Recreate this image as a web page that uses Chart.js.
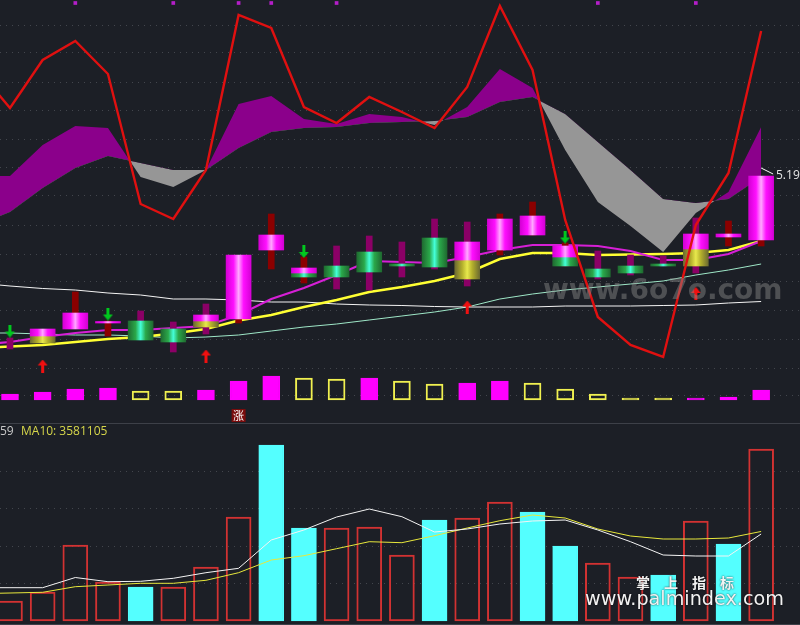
<!DOCTYPE html>
<html>
<head>
<meta charset="utf-8">
<title>K line</title>
<script src="https://cdn.jsdelivr.net/npm/chart.js@4/dist/chart.umd.min.js"></script>
<style>
    body { margin: 0; background: #1c1f26; }
    canvas { display: block; }
</style>
</head>
<body>
<canvas id="kline" width="800" height="625"></canvas>
<script>
// candle positions, lines start one session earlier so they run off the left edge
const days = [0, 1, 2, 3, 4, 5, 6, 7, 8, 9, 10, 11, 12, 13, 14, 15, 16, 17, 18, 19, 20, 21, 22, 23];
const lineDays = [-1].concat(days);

// candles
const candleUp = [0, 1, 1, 0, 0, 0, 1, 1, 1, 0, 0, 0, 0, 0, 1, 1, 1, 0, 0, 0, 0, 1, 1, 1];
const wicks = [[3.45, 3.56], null, [3.81, 4.02], [3.58, 3.73], [3.73, 3.83], [3.42, 3.72], [3.60, 3.90], [3.71, 3.75],
    [4.25, 4.80], [4.11, 4.37], [4.05, 4.48], [4.04, 4.58], [4.17, 4.52], [4.25, 4.75], [4.08, 4.72], [4.39, 4.80],
    [4.59, 4.92], [4.28, 4.51], [4.15, 4.43], [4.19, 4.39], [4.28, 4.38], [4.21, 4.76], [4.48, 4.73], [4.48, 4.54]];
const pinkBodies = [null, [3.58, 3.65], [3.65, 3.81], [3.71, 3.725], null, null, [3.73, 3.79], [3.75, 4.39],
    [4.44, 4.59], [4.21, 4.26], null, null, null, null, [4.34, 4.52], [4.44, 4.75],
    [4.59, 4.78], [4.37, 4.48], null, null, null, [4.45, 4.60], [4.57, 4.60], [4.54, 5.18]];
const goldBodies = [null, [3.51, 3.58], null, null, null, null, [3.67, 3.73], null,
    null, null, null, null, null, null, [4.15, 4.34], null,
    null, null, null, null, null, [4.28, 4.45], null, null];
const greenBodies = [null, null, null, null, [3.54, 3.73], [3.52, 3.65], null, null,
    null, [4.17, 4.21], [4.17, 4.28], [4.22, 4.42], [4.28, 4.30], [4.27, 4.56], null, null,
    null, [4.28, 4.37], [4.17, 4.25], [4.21, 4.28], [4.28, 4.30], null, null, null];

// price lines
const ma5 = [3.49, 3.52, 3.57, 3.61, 3.64, 3.64, 3.66, 3.68, 3.79, 3.95, 4.06, 4.19, 4.33, 4.32, 4.31, 4.37, 4.44, 4.49, 4.49, 4.48, 4.43, 4.34, 4.34, 4.40, 4.53];
const ma10 = [3.46, 3.475, 3.49, 3.52, 3.55, 3.57, 3.605, 3.65, 3.735, 3.79, 3.87, 3.94, 4.02, 4.07, 4.13, 4.21, 4.35, 4.41, 4.41, 4.39, 4.395, 4.40, 4.41, 4.44, 4.53];
const ma20 = [3.61, 3.61, 3.60, 3.59, 3.59, 3.58, 3.56, 3.57, 3.59, 3.63, 3.67, 3.70, 3.74, 3.78, 3.82, 3.87, 3.95, 4.00, 4.04, 4.07, 4.10, 4.13, 4.19, 4.24, 4.30];
const ma60 = [4.11, 4.08, 4.055, 4.04, 4.01, 3.99, 3.95, 3.95, 3.94, 3.92, 3.92, 3.90, 3.89, 3.885, 3.875, 3.87, 3.87, 3.87, 3.88, 3.88, 3.88, 3.885, 3.89, 3.91, 3.925];

// indicator drawn over the price pane
const redLine = [6.25, 5.86, 6.34, 6.53, 6.20, 4.90, 4.75, 5.24, 6.79, 6.66, 5.87, 5.71, 5.97, 5.82, 5.66, 6.07, 6.88, 6.24, 4.74, 3.77, 3.49, 3.37, 4.69, 5.21, 6.63];
const cloudFast = [5.18, 5.18, 5.49, 5.68, 5.66, 5.17, 5.07, 5.24, 5.90, 5.98, 5.75, 5.70, 5.80, 5.77, 5.69, 5.87, 6.25, 6.06, 5.44, 4.92, 4.68, 4.42, 4.81, 5.02, 5.67];
const cloudSlow = [4.69, 4.82, 5.06, 5.26, 5.38, 5.31, 5.24, 5.24, 5.46, 5.62, 5.66, 5.67, 5.71, 5.72, 5.73, 5.77, 5.92, 5.97, 5.80, 5.52, 5.24, 4.95, 4.91, 4.95, 5.17];

// arrows and markers
const buyDays = [1, 6, 14, 21];
const buyPrices = [3.28, 3.38, 3.87, 4.005];
const sellDays = [0, 3, 9, 17];
const sellPrices = [3.63, 3.80, 4.425, 4.57];
const markDays = [2, 5, 7, 8, 10, 18, 21];
const markPrice = 6.91;
const riseDay = 7;

// small bars under the candles
const flowValues = [6, 8, 11, 12, 9, 9, 10, 19, 24, 22, 21, 22, 19, 16, 17, 19, 17, 11, 6, 2, 2, 2, 3, 10];
const flowUp = [1, 1, 1, 1, 0, 0, 1, 1, 1, 0, 0, 1, 0, 0, 1, 1, 0, 0, 0, 0, 0, 1, 1, 1];

// volume pane
const volumes = [800000, 1160000, 3040000, 1560000, 1360000, 1360000, 2160000, 4160000, 7040000, 3720000, 3720000, 3760000,
    2640000, 4040000, 4120000, 4760000, 4360000, 3000000, 2320000, 1760000, 1840000, 4000000, 3080000, 6880000];
const volumeUp = [1, 1, 1, 1, 0, 1, 1, 1, 0, 0, 1, 1, 1, 0, 1, 1, 0, 0, 1, 1, 0, 1, 0, 1];
const volMa5 = [1332000, 1332000, 1332000, 1740000, 1572000, 1588000, 1708000, 1932000, 2108000, 3240000, 3640000, 4160000, 4480000,
    4172000, 3560000, 3680000, 3880000, 4000000, 4040000, 3640000, 3172000, 2640000, 2600000, 2600000, 3480000];
const volMa10 = [1092000, 1120000, 1148000, 1372000, 1440000, 1508000, 1508000, 1628000, 1932000, 2440000, 2612000, 2892000, 3172000,
    3132000, 3412000, 3720000, 4012000, 4240000, 4120000, 3680000, 3400000, 3280000, 3280000, 3320000, 3581105];

// tick positions for the dotted grid and pane dividers
const priceTicks = [6.69, 6.41, 6.12, 5.83, 5.55, 5.26, 4.98, 4.69, 4.40, 4.12, 3.83, 3.55, 3.26, 2.98];
const volumeTicks = [1500000, 3000000, 4500000, 6000000];
const dividerTicks = [-23, -224];

const priceLabel = '5.19';
const volumeLabel = 'MA10: 3581105';

// turns a value list into points for the linear x axis
function points(xs, ys) {
    return ys.map((y, i) => ({ x: xs[i], y: y })).filter(p => p.y !== null);
}

// candle bodies are shaded like a cylinder, bright in the middle
function shaded(edge, mid, centre) {
    return function(c) {
        if (c.type !== 'data') return mid;
        const px = c.chart.scales.x.getPixelForValue(c.raw.x);
        // the legend asks for the style before the scales are laid out
        if (!isFinite(px)) return mid;
        const g = c.chart.ctx.createLinearGradient(px - 12.5, 0, px + 12.5, 0);
        g.addColorStop(0, edge);
        g.addColorStop(0.3, mid);
        g.addColorStop(0.5, centre);
        g.addColorStop(0.7, mid);
        g.addColorStop(1, edge);
        return g;
    };
}

// arrow image used as a point style, pointing up
function arrowImage(color) {
    const cv = document.createElement('canvas');
    cv.width = 11;
    cv.height = 13;
    const g = cv.getContext('2d');
    g.fillStyle = color;
    g.beginPath();
    g.moveTo(5.5, 0);
    g.lineTo(10.5, 6);
    g.lineTo(7, 6);
    g.lineTo(7, 13);
    g.lineTo(4, 13);
    g.lineTo(4, 6);
    g.lineTo(0.5, 6);
    g.closePath();
    g.fill();
    return cv;
}

function lineSet(data, color, width, order, yAxisID) {
    return {
        type: 'line',
        data: points(lineDays, data),
        borderColor: color,
        borderWidth: width,
        pointRadius: 0,
        tension: 0,
        fill: false,
        order: order,
        yAxisID: yAxisID || 'price'
    };
}

function bodySet(data, edge, mid, centre) {
    return {
        type: 'bar',
        data: points(days, data),
        backgroundColor: shaded(edge, mid, centre),
        borderWidth: 0,
        barThickness: 25,
        order: 5,
        yAxisID: 'price'
    };
}

function axisTicks(list) {
    return function(scale) {
        scale.ticks = list.map(v => ({ value: v }));
    };
}

function paneAxis(min, max, list, color, dash) {
    return {
        min: min,
        max: max,
        afterBuildTicks: axisTicks(list),
        ticks: { display: false, autoSkip: false },
        grid: { color: color, drawTicks: false, lineWidth: 1 },
        border: { display: false, dash: dash }
    };
}

// all the text on the picture that is not part of an axis
const textPlugin = {
    id: 'textPlugin',
    afterDraw(chart) {
        const ctx = chart.ctx;
        const x = chart.scales.x;
        const riseX = x.getPixelForValue(riseDay);
        ctx.save();
        ctx.textBaseline = 'middle';

        ctx.fillStyle = '#7a0c0c';
        ctx.fillRect(riseX - 7, 409, 14, 13);
        ctx.fillStyle = '#ffffff';
        ctx.font = '11px "Noto Sans CJK SC"';
        ctx.textAlign = 'center';
        ctx.fillText('涨', riseX, 415.5);

        // last price with its small leader
        ctx.strokeStyle = '#ffffff';
        ctx.lineWidth = 1;
        ctx.beginPath();
        ctx.moveTo(x.getPixelForValue(23), 168);
        ctx.lineTo(x.getPixelForValue(23) + 12, 174);
        ctx.stroke();
        ctx.textAlign = 'left';
        ctx.font = '12px "Open Sans"';
        ctx.fillStyle = '#e6e6e6';
        ctx.fillText(priceLabel, 776, 176);

        ctx.fillStyle = '#c8c8c8';
        ctx.fillText('59', 0, 432);
        ctx.fillStyle = '#d6d64a';
        ctx.fillText(volumeLabel, 21, 432);

        // watermarks
        ctx.font = 'bold 28px "DejaVu Sans"';
        ctx.fillStyle = 'rgba(140, 140, 140, 0.45)';
        ctx.fillText('www.6o7o.com', 543, 292);

        ctx.shadowColor = 'rgba(0, 0, 0, 0.8)';
        ctx.shadowBlur = 2;
        ctx.fillStyle = '#f2f2f2';
        ctx.font = 'bold 14px "Noto Sans CJK SC"';
        ctx.letterSpacing = '14px';
        ctx.fillText('掌上指标', 636, 583);
        ctx.letterSpacing = '0px';
        ctx.font = '19.2px "DejaVu Sans"';
        ctx.fillText('www.palmindex.com', 585, 600);
        ctx.restore();
    }
};

const ctx = document.getElementById('kline').getContext('2d');

new Chart(ctx, {
    data: {
        datasets: [
            // cloud, the target of the fill has to be the next dataset
            Object.assign(lineSet(cloudFast, 'rgba(0,0,0,0)', 0, 9), {
                fill: { target: '+1', above: '#8b008b', below: '#969696' }
            }),
            lineSet(cloudSlow, 'rgba(0,0,0,0)', 0, 9),
            lineSet(ma60, '#f4f4f4', 1, 8),
            lineSet(ma20, '#9fe8c8', 1, 8),
            lineSet(ma5, '#d61fd6', 2.2, 7),
            lineSet(ma10, '#ffff33', 2.5, 7),
            {
                type: 'bar',
                data: points(days, wicks),
                backgroundColor: days.map(i => candleUp[i] ? '#8b0000' : '#8b0066'),
                borderWidth: 0,
                barThickness: 6,
                order: 6,
                yAxisID: 'price'
            },
            bodySet(pinkBodies, '#d400d4', '#ff10ff', '#ffa8ff'),
            bodySet(goldBodies, '#6c6a30', '#b4b02c', '#e8e84c'),
            bodySet(greenBodies, '#1f6a30', '#2aa84a', '#44ffd8'),
            lineSet(redLine, '#e01010', 2.4, 1),
            {
                type: 'scatter',
                data: points(buyDays, buyPrices),
                pointStyle: arrowImage('#f01010'),
                order: 2,
                yAxisID: 'price'
            },
            {
                type: 'scatter',
                data: points(sellDays, sellPrices),
                pointStyle: arrowImage('#00c81e'),
                pointRotation: 180,
                order: 2,
                yAxisID: 'price'
            },
            {
                type: 'scatter',
                data: markDays.map(d => ({ x: d, y: markPrice })),
                pointStyle: 'rect',
                pointRadius: 2.6,
                backgroundColor: '#b41ec8',
                borderWidth: 0,
                order: 2,
                yAxisID: 'price'
            },
            {
                type: 'bar',
                data: points(days, flowValues),
                backgroundColor: days.map(i => flowUp[i] ? '#ff00ff' : 'rgba(0,0,0,0)'),
                borderColor: days.map(i => flowUp[i] ? '#ff00ff' : '#f0f050'),
                borderWidth: 1.3,
                borderSkipped: false,
                barThickness: 17,
                order: 5,
                yAxisID: 'flow'
            },
            {
                type: 'bar',
                data: points(days, volumes),
                backgroundColor: days.map(i => volumeUp[i] ? 'rgba(0,0,0,0)' : '#54ffff'),
                borderColor: days.map(i => volumeUp[i] ? '#d23232' : '#54ffff'),
                borderWidth: 1.3,
                borderSkipped: false,
                barThickness: 25,
                order: 5,
                yAxisID: 'volume'
            },
            lineSet(volMa5, '#f4f4f4', 1, 3, 'volume'),
            lineSet(volMa10, '#e8e83c', 1, 3, 'volume')
        ]
    },
    options: {
        responsive: false,
        animation: false,
        events: [],
        layout: { padding: 0, autoPadding: false },
        parsing: { xAxisKey: 'x', yAxisKey: 'y' },
        datasets: { bar: { grouped: false } },
        plugins: {
            legend: { display: false },
            tooltip: { enabled: false },
            title: { display: false }
        },
        scales: {
            x: { type: 'linear', min: -0.306, max: 24.19, offset: false, display: false },
            price: paneAxis(0.69, 6.94, priceTicks, '#43464d', [1, 5]),
            volume: paneAxis(-160000, 24840000, volumeTicks, '#43464d', [1, 5]),
            flow: paneAxis(-225, 400, dividerTicks, '#3d4048', [])
        }
    },
    plugins: [textPlugin]
});
</script>
</body>
</html>
